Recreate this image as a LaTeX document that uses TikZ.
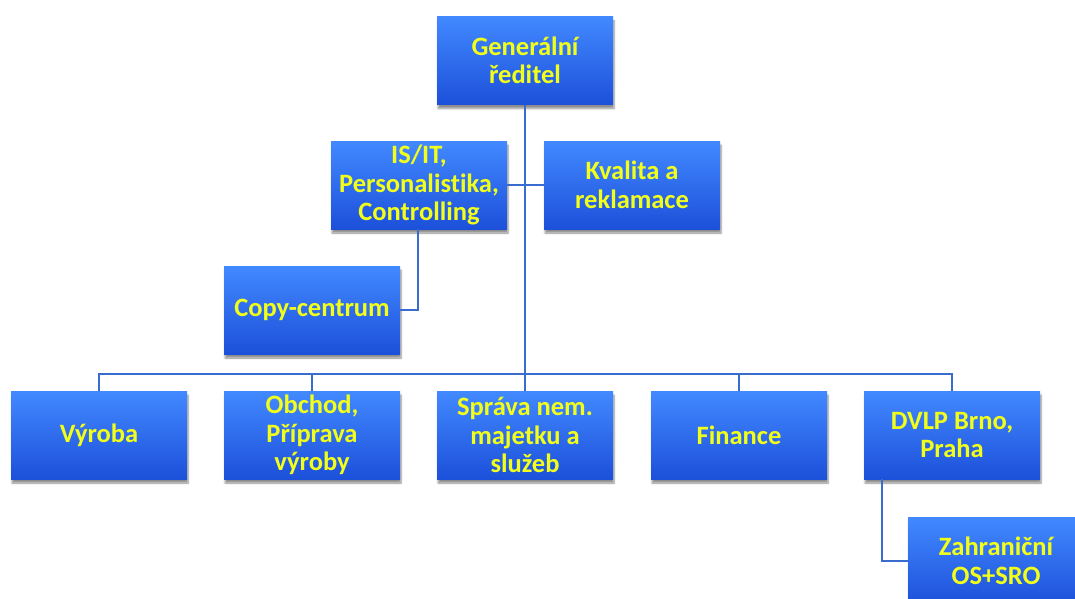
\documentclass[tikz,border=0pt]{standalone}
\usepackage{fontspec}
\setmainfont{Carlito}[Ligatures=NoCommon]
\usetikzlibrary{shadows.blur}
\definecolor{boxtop}{HTML}{4289FF}
\definecolor{boxbot}{HTML}{1C50DA}
\definecolor{txt}{HTML}{F2FF1A}
\definecolor{linec}{HTML}{3A6CD0}
\tikzset{
  orgbox/.style={rectangle, minimum width=176pt, minimum height=88pt, inner sep=1pt,
    top color=boxtop, bottom color=boxbot, draw=none,
    blur shadow={shadow xshift=1pt, shadow yshift=-4pt, shadow blur steps=6, shadow opacity=45},
    text=txt, align=center, font=\fontsize{26.5}{28.5}\selectfont\bfseries},
  conn/.style={draw=linec, line width=2pt},
}
\begin{document}
\begin{tikzpicture}[x=1pt,y=-1pt]
\useasboundingbox (0,0) rectangle (1075,599);
\node[orgbox] (gr) at (525,60.5) {Generální\\ředitel};
\node[orgbox] (isit) at (419,185) {IS/IT,\\Personalistika,\\Controlling};
\node[orgbox] (kval) at (632,185) {Kvalita a\\reklamace};
\node[orgbox] (copy) at (312,310) {Copy-centrum};
\node[orgbox] (vyr) at (99,435) {Výroba};
\node[orgbox] (obch) at (312,435) {Obchod,\\Příprava\\výroby};
\node[orgbox] (sprava) at (525,435) {Správa nem.\\majetku a\\služeb};
\node[orgbox] (fin) at (739,435) {Finance};
\node[orgbox] (dvlp) at (952,435) {DVLP Brno,\\Praha};
\node[orgbox] (zahr) at (996,561) {Zahraniční\\OS+SRO};
\coordinate (bus) at (525,374);
\draw[conn] (gr.south) -- (bus);
\draw[conn] (isit.east) -- (kval.west);
\draw[conn] (isit.south -| 418,0) |- (copy.east);
\draw[conn] (vyr.north) |- (bus) -| (dvlp.north);
\draw[conn] (obch.north) -- (obch.north |- bus);
\draw[conn] (sprava.north) -- (sprava.north |- bus);
\draw[conn] (fin.north) -- (fin.north |- bus);
\draw[conn] (dvlp.south -| 882,0) |- (zahr.west);
\end{tikzpicture}
\end{document}
